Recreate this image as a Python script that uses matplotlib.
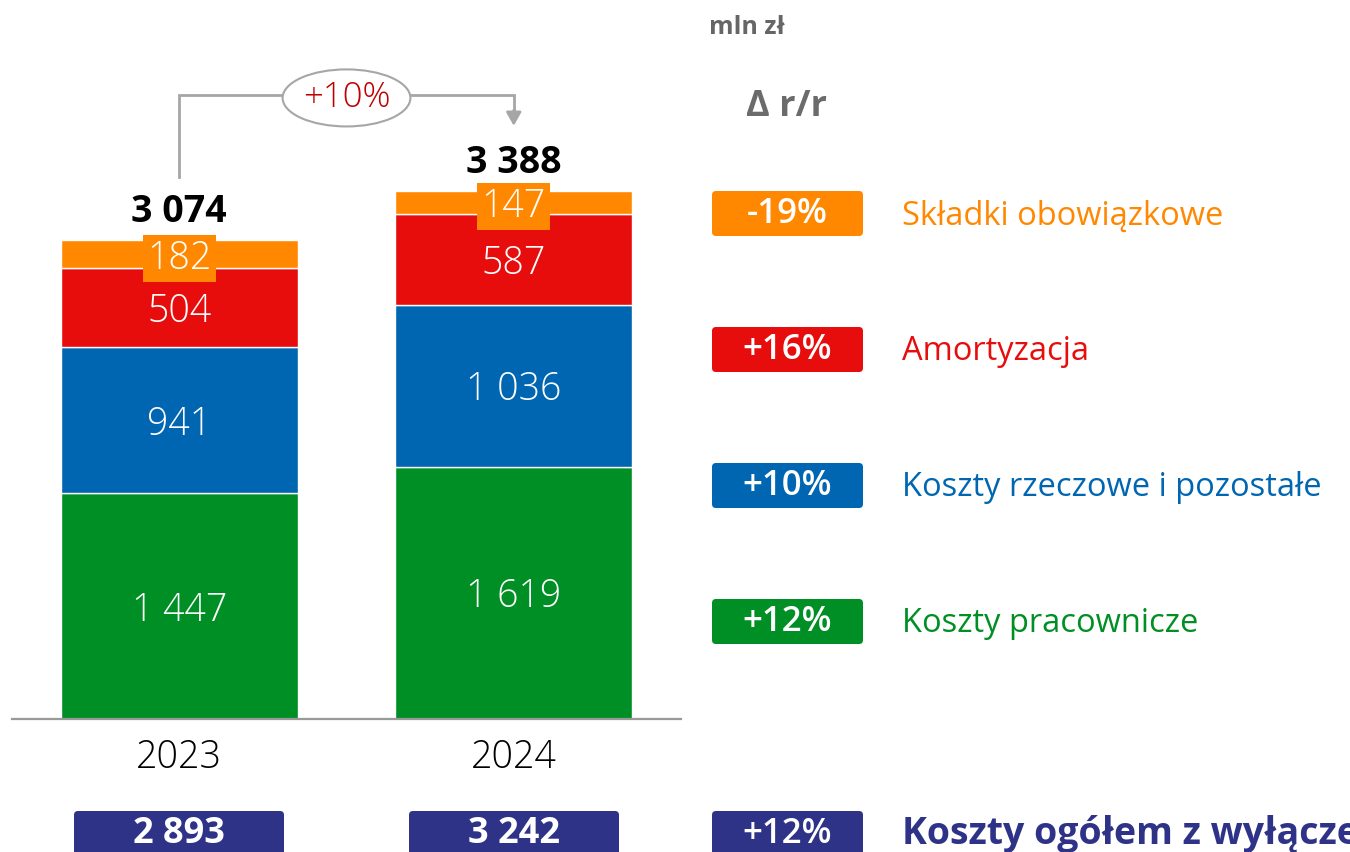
import matplotlib

matplotlib.use("Agg")
import matplotlib.pyplot as plt
from matplotlib.patches import Ellipse, FancyBboxPatch

W, H = 1350, 852

years = ["2023", "2024"]
pracownicze = [1447, 1619]
rzeczowe = [941, 1036]
amortyzacja = [504, 587]
skladki = [182, 147]
totals = [3074, 3388]
totals_ex = [2893, 3242]

categories = ["Składki obowiązkowe", "Amortyzacja",
              "Koszty rzeczowe i pozostałe", "Koszty pracownicze"]
changes = ["-19%", "+16%", "+10%", "+12%"]
total_change = "+10%"
total_ex_change = "+12%"
total_ex_label = "Koszty ogółem z wyłączeniem składek obowiązkowych"
unit_label = "mln zł"
delta_label = "Δ r/r"

GREEN, BLUE, RED, ORANGE = "#008f24", "#0066b1", "#e80d0d", "#ff8800"
NAVY = "#2e3388"
GREY = "#a6a6a6"

plt.rcParams["font.family"] = ["Open Sans", "DejaVu Sans"]


def fmt(v):
    return f"{v:,}".replace(",", " ")


fig = plt.figure(figsize=(W / 100, H / 100), dpi=100)

# bar panel: 0.1558 px per unit, baseline at y=719 px
ax = fig.add_axes([12 / W, 133 / H, 669 / W, 639 / H])
ax.set_xlim(-0.5, 1.5)
ax.set_ylim(0, 4100)
for s in ["top", "left", "right"]:
    ax.spines[s].set_visible(False)
ax.spines["bottom"].set_color("#999999")
ax.spines["bottom"].set_linewidth(1.6)
ax.set_yticks([])
ax.set_xticks(range(len(years)))
ax.set_xticklabels(years, fontsize=27, fontweight="light", color="black")
ax.tick_params(axis="x", length=0, pad=14)

x = list(range(len(years)))
stack = [(pracownicze, GREEN), (rzeczowe, BLUE), (amortyzacja, RED), (skladki, ORANGE)]
bottom = [0, 0]
for vals, col in stack:
    ax.bar(x, vals, bottom=bottom, width=0.71, color=col, edgecolor="white", linewidth=1)
    for i, v in enumerate(vals):
        kw = {}
        if col == ORANGE:
            kw["bbox"] = dict(boxstyle="square,pad=0.12", fc=ORANGE, ec="none")
        ax.annotate(fmt(v), (i, bottom[i] + v / 2), xytext=(0, -3),
                    textcoords="offset points", ha="center", va="center",
                    color="white", fontsize=27, fontweight="light", **kw)
    bottom = [b + v for b, v in zip(bottom, vals)]

for i, t in enumerate(totals):
    ax.annotate(fmt(t), (i, t), xytext=(0, 20), textcoords="offset points",
                ha="center", va="center", fontsize=27, fontweight="bold", color="black")

# growth bracket
top = totals[1] + 617
start = totals[0] + 405
tip = totals[1] + 418
ax.plot([0, 0, 1, 1], [start, top, top, tip + 60], color=GREY, lw=2, clip_on=False,
        solid_joinstyle="miter")
ax.annotate("", xy=(1, tip), xytext=(1, tip + 100),
            arrowprops=dict(arrowstyle="-|>,head_length=0.8,head_width=0.45",
                            color=GREY, lw=2, shrinkA=0, shrinkB=0),
            annotation_clip=False)
ax.add_patch(Ellipse((0.5, top - 20), 0.382, 366, fc="white", ec=GREY, lw=1.5,
                     clip_on=False, zorder=3))
ax.text(0.5, top - 20, total_change, ha="center", va="center", fontsize=25,
        fontweight="light", color="#c00000", zorder=4)

# right-hand legend and badges (pixel coordinates)
deco = fig.add_axes([0, 0, 1, 1], zorder=-1)
deco.set_xlim(0, W)
deco.set_ylim(H, 0)
deco.axis("off")

deco.text(709, 27, unit_label, ha="left", va="center", fontsize=18,
          fontweight="bold", color="#666666")
deco.text(786, 107, delta_label, ha="center", va="center", fontsize=26,
          fontweight="bold", color="#6b6b6b")

row_y = [213, 349, 485, 621]
row_col = [ORANGE, RED, BLUE, GREEN]
for y, lab, ch, col in zip(row_y, categories, changes, row_col):
    deco.add_patch(FancyBboxPatch((712, y - 22), 151, 45,
                                  boxstyle="round,pad=0,rounding_size=4",
                                  fc=col, ec="none"))
    deco.text(787, y + 1, ch, ha="center", va="center", fontsize=25,
              fontweight="semibold", color="white")
    deco.text(902, y + 3, lab, ha="left", va="center", fontsize=23.5, color=col)

# totals excluding mandatory contributions
for i, v in enumerate(totals_ex):
    cx = 179 + 335 * i
    deco.add_patch(FancyBboxPatch((cx - 105, 811), 210, 70,
                                  boxstyle="round,pad=0,rounding_size=4",
                                  fc=NAVY, ec="none"))
    deco.text(cx, 834, fmt(v), ha="center", va="center", fontsize=26,
              fontweight="bold", color="white")
deco.add_patch(FancyBboxPatch((712, 811), 151, 70,
                              boxstyle="round,pad=0,rounding_size=4",
                              fc=NAVY, ec="none"))
deco.text(787, 834, total_ex_change, ha="center", va="center", fontsize=25,
          fontweight="semibold", color="white")
deco.text(902, 834, total_ex_label, ha="left", va="center", fontsize=27,
          fontweight="bold", color=NAVY)

fig.savefig("out.png", dpi=100)
